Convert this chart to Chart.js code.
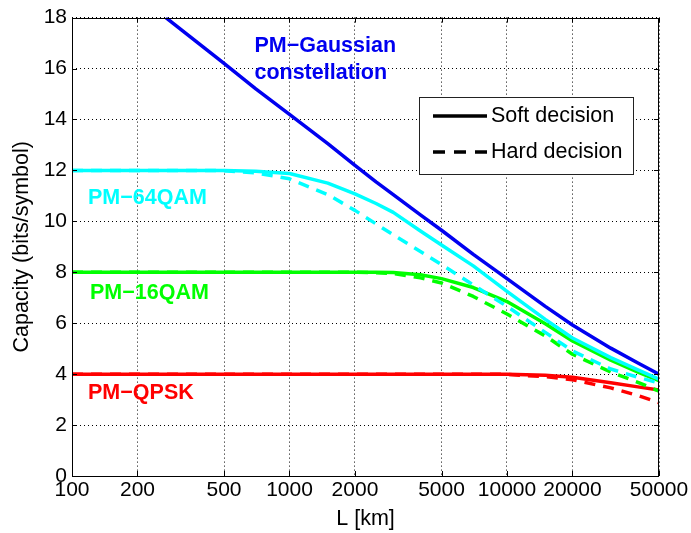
<!DOCTYPE html>
<html><head><meta charset="utf-8">
<script src="https://cdn.jsdelivr.net/npm/chart.js@4/dist/chart.umd.min.js"></script>
<style>html,body{margin:0;padding:0;background:#fff}#wrap{width:691px;height:533px;position:relative}</style>
</head><body><div id="wrap"><canvas id="c" width="691" height="533"></canvas></div>
<script>
// ---- data ----
const L_km = [100,200,270,500,700,1000,1500,2000,2500,3000,4000,5000,7000,10000,15000,20000,30000,40000,50000];
const xTickValues = [100,200,500,1000,2000,5000,10000,20000,50000];
const yTickValues = [0,2,4,6,8,10,12,14,16,18];

const gaussian  = [null,null,18.0,16.2,15.2,14.2,13.05,12.2,11.55,11.05,10.25,9.65,8.7,7.75,6.66,5.93,5.02,4.44,4.0];
const qam64Soft = [12,12,12,12.0,11.97,11.88,11.5,11.08,10.7,10.35,9.62,9.07,8.25,7.25,6.15,5.42,4.65,4.17,3.8];
const qam64Hard = [12,12,12,11.99,11.9,11.67,11.05,10.43,9.9,9.47,8.82,8.3,7.5,6.66,5.64,4.91,4.2,3.88,3.65];
const qam16Soft = [8,8,8,8,8,8,8,8,8,7.99,7.9,7.75,7.4,6.85,5.98,5.3,4.55,4.08,3.74];
const qam16Hard = [8,8,8,8,8,8,8,8,7.98,7.95,7.78,7.58,7.05,6.36,5.5,4.78,4.08,3.68,3.33];
const qpskSoft  = [4,4,4,4,4,4,4,4,4,4,4,4,4,4,3.96,3.88,3.66,3.5,3.38];
const qpskHard  = [4,4,4,4,4,4,4,4,4,4,4,4,4,3.99,3.9,3.78,3.46,3.16,2.88];

const seriesLabels = ['PM\u2212Gaussian','constellation','PM\u221264QAM','PM\u221216QAM','PM\u2212QPSK'];
const legendLabels = ['Soft decision','Hard decision'];

// ---- styling ----
const FONT = "'Liberation Sans', Arial, Helvetica, sans-serif";
const BLUE = '#0000f0', CYAN = '#00ffff', GREEN = '#00ff00', RED = '#ff0000';
const DASH = [11,8];
const LW = 3.5;

function pts(arr){ return L_km.map((x,i)=>({x:x,y:arr[i]})).filter(p=>p.y!==null); }
function ds(arr,color,dashed){
  return {data:pts(arr),borderColor:color,borderWidth:LW,borderDash:dashed?DASH:[],pointRadius:0,
          fill:false,tension:0,borderCapStyle:'butt',borderJoinStyle:'round'};
}

const frame = {
  id:'frame',
  afterDatasetsDraw(chart){
    const {ctx, chartArea:a, scales} = chart;
    ctx.save();
    ctx.strokeStyle='#000'; ctx.lineWidth=1;
    ctx.strokeRect(Math.round(a.left)+0.5, Math.round(a.top)+0.5, Math.round(a.right-a.left)-1, Math.round(a.bottom-a.top));
    const tl=5;
    ctx.beginPath();
    xTickValues.forEach(v=>{
      const x=Math.round(scales.x.getPixelForValue(v))+0.5;
      ctx.moveTo(x,a.bottom); ctx.lineTo(x,a.bottom-tl);
      ctx.moveTo(x,a.top); ctx.lineTo(x,a.top+tl);
    });
    yTickValues.forEach(v=>{
      const y=Math.round(scales.y.getPixelForValue(v))+0.5;
      ctx.moveTo(a.left,y); ctx.lineTo(a.left+tl,y);
      ctx.moveTo(a.right,y); ctx.lineTo(a.right-tl,y);
    });
    ctx.stroke();
    // series labels (anchored in data coordinates)
    const lab = [
      [seriesLabels[0],690,16.87,BLUE],
      [seriesLabels[1],690,15.82,BLUE],
      [seriesLabels[2],118.5,10.9,CYAN],
      [seriesLabels[3],121,7.17,GREEN],
      [seriesLabels[4],118.5,3.27,RED]
    ];
    ctx.font = "bold 21.5px "+FONT;
    ctx.textBaseline='middle'; ctx.textAlign='left';
    lab.forEach(([t,lx,ly,c])=>{
      ctx.fillStyle=c;
      ctx.fillText(t, scales.x.getPixelForValue(lx), scales.y.getPixelForValue(ly));
    });
    // legend box
    const bx=419.5, by=97.5, bw=214, bh=77;
    ctx.fillStyle='#fff'; ctx.fillRect(bx,by,bw,bh);
    ctx.strokeStyle='#222'; ctx.lineWidth=1; ctx.strokeRect(bx,by,bw,bh);
    ctx.strokeStyle='#000'; ctx.lineWidth=LW;
    ctx.beginPath(); ctx.setLineDash([]); ctx.moveTo(433,116); ctx.lineTo(487,116); ctx.stroke();
    ctx.beginPath(); ctx.setLineDash([12,9]); ctx.moveTo(433,152); ctx.lineTo(487,152); ctx.stroke();
    ctx.setLineDash([]);
    ctx.fillStyle='#000'; ctx.font="21.5px "+FONT;
    ctx.fillText(legendLabels[0],491,116);
    ctx.fillText(legendLabels[1],491,152);
    ctx.restore();
  }
};

new Chart(document.getElementById('c'),{
  type:'line',
  data:{datasets:[
    ds(gaussian,BLUE,false),
    ds(qam64Hard,CYAN,true),
    ds(qam64Soft,CYAN,false),
    ds(qam16Hard,GREEN,true),
    ds(qam16Soft,GREEN,false),
    ds(qpskHard,RED,true),
    ds(qpskSoft,RED,false)
  ]},
  options:{
    responsive:false, animation:false, devicePixelRatio:1,
    layout:{padding:{top:14,right:32,left:0,bottom:0}},
    plugins:{legend:{display:false},tooltip:{enabled:false}},
    scales:{
      x:{type:'logarithmic',min:100,max:50000,
         afterBuildTicks(s){ s.ticks = xTickValues.map(v=>({value:v})); },
         afterFit(s){ s.height = 57; },
         ticks:{color:'#000',font:{family:FONT,size:21},padding:2,maxRotation:0,autoSkip:false,
                callback:(v)=>String(v)},
         grid:{color:'#000',lineWidth:1,drawTicks:false},
         border:{display:false,dash:[1,3]},
         title:{display:true,text:'L [km]',color:'#000',font:{family:FONT,size:21.5},padding:{top:0,bottom:1}}
      },
      y:{type:'linear',min:0,max:18,
         afterBuildTicks(s){ s.ticks = yTickValues.map(v=>({value:v})); },
         afterFit(s){ s.width = 72; },
         ticks:{color:'#000',font:{family:FONT,size:21},padding:5},
         grid:{color:'#000',lineWidth:1,drawTicks:false},
         border:{display:false,dash:[1,3]},
         title:{display:true,text:'Capacity (bits/symbol)',color:'#000',font:{family:FONT,size:21.5},padding:{top:9,bottom:0}}
      }
    }
  },
  plugins:[frame]
});
</script></body></html>
